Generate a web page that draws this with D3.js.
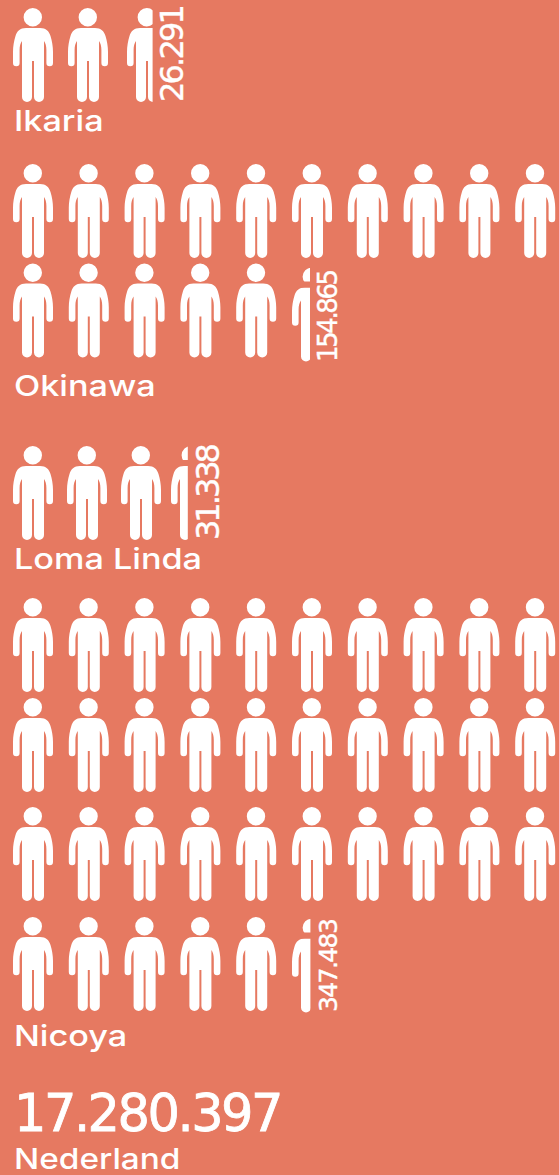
<!DOCTYPE html>
<html>
<head>
<meta charset="utf-8">
<script src="https://cdnjs.cloudflare.com/ajax/libs/d3/7.8.5/d3.min.js"></script>
<style>
    html, body { margin: 0; padding: 0; background: #e67961; }
    svg { display: block; }
    text { fill: #fff; font-family: 'Inter', sans-serif; font-weight: 500; }
    .num { font-family: 'DejaVu Sans', sans-serif; font-weight: 400; stroke: #fff; stroke-width: 0.4px; }
</style>
</head>
<body>
<div id="chart"></div>
<script>
const places = ['Ikaria', 'Okinawa', 'Loma Linda', 'Nicoya']
const inhabitantLabels = ['26.291', '154.865', '31.338', '347.483']
// figures drawn per place and how much of the last one is filled
const figureCounts = [3, 16, 4, 36]
const lastFigureShare = [0.64, 0.45, 0.42, 0.46]
const perRow = 10
const totalLabel = '17.280.397'
const totalName = 'Nederland'

// layout per block
const rowTops = [[8], [164, 263.5], [446], [598, 698, 807, 917]]
const steps = [55, 55.8, 54, 55.8]
const partialShift = [4, 0, -4, 0]
const partialDrop = [0, 4, 0, 1.5]
const headKept = [20, 14, 14, 14]
const labelY = [131, 396, 569, 1046]
const valueFont = [32, 26, 32, 25]
const valueSpacing = [-2.8, -2.4, -3, -1.6]
const valueBottom = [102, 362, 540, 1012]
const valueX = [183, 337, 219, 337]

const width = 559
const height = 1175
const figureW = 40
const figureH = 95
const labelStretch = 1.18

const svg = d3.select('#chart').append('svg').attr('width', width).attr('height', height)
const defs = svg.append('defs')

defs.append('path')
    .attr('id', 'figure')
    .attr('fill', '#fff')
    .attr('d', 'M13 20H27C33 20 36 23 37.5 28C39 33 40 38 40 44V55a3.3 3.3 0 0 1-6.6 0V42C33.4 38 32.5 35 31 33V89a5 5 0 0 1-10 0V53H19V89a5 5 0 0 1-10 0V33C7.5 35 6.6 38 6.6 42V55a3.3 3.3 0 0 1-6.6 0V44C0 38 1 33 2.5 28C4 23 7 20 13 20Z M29 9.3a9.2 9.2 0 1 1-18.4 0a9.2 9.2 0 1 1 18.4 0Z')

const share = d3.scaleLinear().domain([0, 1]).range([0, figureW])

places.forEach((place, b) => {
    const count = figureCounts[b]
    const x = d3.scaleLinear().domain([0, 1]).range([13, 13 + steps[b]])
    const figures = d3.range(count)
    const g = svg.append('g').attr('class', 'block')

    // last figure: cut on the right, head cut flat at the bottom
    const clip = defs.append('clipPath').attr('id', `clip${b}`)
    clip.append('rect')
        .attr('width', share(lastFigureShare[b]))
        .attr('height', headKept[b])
    clip.append('rect')
        .attr('y', 20)
        .attr('width', share(lastFigureShare[b]))
        .attr('height', figureH - 20)

    g.selectAll('g')
        .data(figures)
        .enter()
        .append('g')
        .attr('transform', (d) => {
            const col = d % perRow
            const row = Math.floor(d / perRow)
            const last = d === count - 1
            const dx = last ? partialShift[b] : 0
            const dy = last ? partialDrop[b] : 0
            return `translate(${x(col) + dx}, ${rowTops[b][row] + dy})`
        })
        .attr('clip-path', (d) => (d === count - 1 ? `url(#clip${b})` : null))
        .append('use')
        .attr('href', '#figure')

    // value runs upwards next to the last figure
    g.append('text')
        .attr('class', 'num')
        .attr('transform', `translate(${valueX[b]}, ${valueBottom[b]}) rotate(-90)`)
        .style('font-size', `${valueFont[b]}px`)
        .style('letter-spacing', `${valueSpacing[b]}px`)
        .text(inhabitantLabels[b])

    g.append('text')
        .attr('transform', `translate(14, ${labelY[b]}) scale(${labelStretch}, 1)`)
        .style('font-size', '29px')
        .text(place)
})

svg.append('text')
    .attr('class', 'num')
    .attr('x', 14)
    .attr('y', 1131)
    .style('font-size', '51px')
    .style('letter-spacing', '-2.5px')
    .style('stroke-width', '0.8px')
    .text(totalLabel)

svg.append('text')
    .attr('transform', `translate(14, 1169) scale(1.15, 1)`)
    .style('font-size', '29px')
    .text(totalName)
</script>
</body>
</html>
